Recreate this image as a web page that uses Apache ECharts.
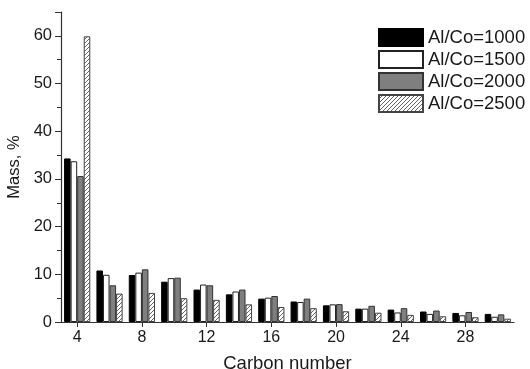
<!DOCTYPE html>
<html>
<head>
<meta charset="utf-8">
<script src="https://cdn.jsdelivr.net/npm/echarts@6/dist/echarts.min.js"></script>
<style>
html,body{margin:0;padding:0;background:#fff;}
#chart{width:530px;height:369px;}
</style>
</head>
<body>
<div id="chart"></div>
<script>
var categories = ['4','6','8','10','12','14','16','18','20','22','24','26','28','30'];
var seriesNames = ['Al/Co=1000','Al/Co=1500','Al/Co=2000','Al/Co=2500'];
var s1000 = [34.3, 10.8, 9.85, 8.45, 6.8, 5.8, 4.9, 4.3, 3.5, 2.8, 2.6, 2.2, 1.9, 1.7];
var s1500 = [33.7, 9.9, 10.35, 9.2, 7.85, 6.4, 5.1, 4.2, 3.7, 2.8, 2.0, 1.7, 1.4, 1.1];
var s2000 = [30.6, 7.7, 11.05, 9.3, 7.7, 6.8, 5.45, 4.9, 3.75, 3.4, 2.9, 2.4, 2.1, 1.6];
var s2500 = [59.9, 5.95, 6.1, 5.0, 4.65, 3.7, 3.15, 2.9, 2.25, 1.95, 1.5, 1.2, 1.0, 0.7];
var yTicks = {min: 0, max: 65, interval: 10};

function hatchCanvas() {
  var c = document.createElement('canvas');
  c.width = 4; c.height = 4;
  var ctx = c.getContext('2d');
  ctx.fillStyle = '#ffffff';
  ctx.fillRect(0, 0, 4, 4);
  ctx.strokeStyle = '#666666';
  ctx.lineWidth = 1;
  ctx.beginPath();
  ctx.moveTo(0, 4); ctx.lineTo(4, 0);
  ctx.moveTo(-1, 1); ctx.lineTo(1, -1);
  ctx.moveTo(3, 5); ctx.lineTo(5, 3);
  ctx.stroke();
  return c;
}

var fills = ['#000000', '#ffffff', '#7f7f7f', {image: hatchCanvas(), repeat: 'repeat'}];
var borders = ['#000000', '#222222', '#333333', '#444444'];
var dataSets = [s1000, s1500, s2000, s2500];

var font = 'Liberation Sans, Arial, sans-serif';
var chart = echarts.init(document.getElementById('chart'), null, {renderer: 'canvas'});
chart.setOption({
  animation: false,
  backgroundColor: '#ffffff',
  textStyle: {fontFamily: font, color: '#1a1a1a'},
  grid: {left: 61, right: 16, top: 12, bottom: 47, containLabel: false, outerBoundsMode: 'none'},
  legend: {
    orient: 'vertical', left: 373, top: 23,
    itemWidth: 44, itemHeight: 17, itemGap: 3,
    icon: 'rect',
    data: seriesNames,
    textStyle: {fontSize: 18.5, color: '#1a1a1a', fontFamily: font}
  },
  xAxis: {
    type: 'category', data: categories,
    name: 'Carbon number', nameLocation: 'middle', nameGap: 32,
    nameTextStyle: {fontSize: 18.5, color: '#1a1a1a', fontFamily: font},
    axisLine: {lineStyle: {color: '#333', width: 1.2}},
    axisTick: {show: true, alignWithLabel: true, interval: 1, length: 5, lineStyle: {color: '#333'}},
    axisLabel: {interval: 1, fontSize: 16, color: '#1a1a1a', margin: 8, fontFamily: font},
    splitLine: {show: false}
  },
  yAxis: {
    type: 'value', min: yTicks.min, max: yTicks.max, interval: yTicks.interval,
    name: 'Mass, %', nameLocation: 'middle', nameGap: 31,
    nameTextStyle: {fontSize: 16.5, color: '#1a1a1a', fontFamily: font},
    axisLine: {show: true, lineStyle: {color: '#333', width: 1.2}},
    axisTick: {show: true, length: 6, lineStyle: {color: '#333'}},
    minorTick: {show: true, splitNumber: 2, length: 4, lineStyle: {color: '#333'}},
    axisLabel: {fontSize: 16.5, color: '#1a1a1a', margin: 9, showMaxLabel: false, fontFamily: font},
    splitLine: {show: false}
  },
  series: dataSets.map(function (d, i) {
    return {
      name: seriesNames[i], type: 'bar', data: d,
      barGap: '0%', barCategoryGap: '19%',
      itemStyle: {color: fills[i], borderColor: borders[i], borderWidth: 1}
    };
  })
});
</script>
</body>
</html>
